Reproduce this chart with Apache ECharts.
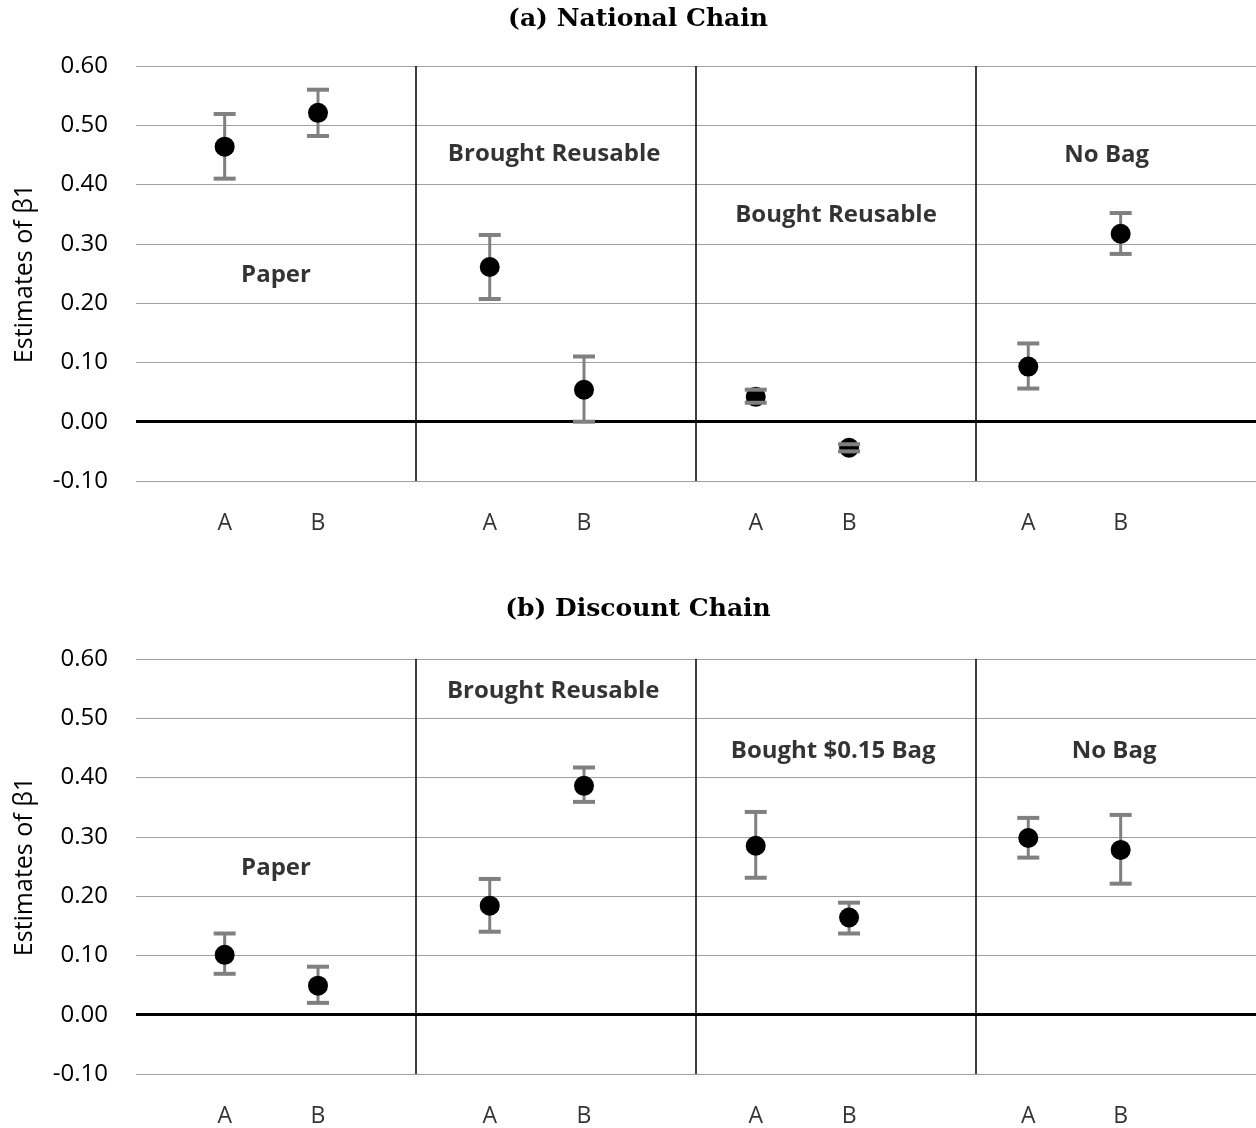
<!DOCTYPE html>
<html><head><meta charset="utf-8">
<script src="https://cdn.jsdelivr.net/npm/echarts@6/dist/echarts.min.js"></script>
<style>html,body{margin:0;padding:0;background:#fff}#c{width:1256px;height:1128px}</style>
</head><body><div id="c"></div><script>
// ---- data ----
const titleA = ['(a) ', 'National Chain'];
const titleB = ['(b) ', 'Discount Chain'];
const groupsNational = ['Paper', 'Brought Reusable', 'Bought Reusable', 'No Bag'];
const groupsDiscount = ['Paper', 'Brought Reusable', 'Bought $0.15 Bag', 'No Bag'];
const pointLabels = ['A', 'B', 'A', 'B', 'A', 'B', 'A', 'B'];
const xPos = [0.95, 1.95, 3.79, 4.80, 6.64, 7.64, 9.56, 10.55];
const separators = [3, 6, 9];
const yMin = -0.1, yMax = 0.6, yStep = 0.1;
const yName = 'Estimates of β1';

const nationalEst  = [0.464, 0.521, 0.261, 0.054, 0.042, -0.044, 0.093, 0.317];
const nationalLow  = [0.410, 0.482, 0.207, 0.000, 0.032, -0.050, 0.056, 0.283];
const nationalHigh = [0.519, 0.560, 0.315, 0.110, 0.054, -0.038, 0.132, 0.352];

const discountEst  = [0.101, 0.049, 0.184, 0.386, 0.285, 0.164, 0.298, 0.278];
const discountLow  = [0.069, 0.020, 0.140, 0.359, 0.231, 0.137, 0.265, 0.221];
const discountHigh = [0.137, 0.081, 0.229, 0.417, 0.342, 0.189, 0.332, 0.337];

// annotation anchor points (data coordinates)
const nationalLabelAt = [[1.5, 0.248], [4.48, 0.452], [7.5, 0.349], [10.4, 0.450]];
const discountLabelAt = [[1.5, 0.248], [4.47, 0.545], [7.47, 0.445], [10.48, 0.445]];

// ---- styles ----
const SANS = 'Open Sans';
const ERR = '#808080';

function stemItem(params, api) {
  const x = api.value(0);
  const p1 = api.coord([x, api.value(1)]);
  const p2 = api.coord([x, api.value(2)]);
  return { type: 'line', shape: { x1: p1[0], y1: p1[1], x2: p2[0], y2: p2[1] },
    style: { stroke: ERR, lineWidth: 3 } };
}
function capItem(params, api) {
  const x = api.value(0);
  const p1 = api.coord([x, api.value(1)]);
  const p2 = api.coord([x, api.value(2)]);
  const w = 11;
  return { type: 'group', children: [
    { type: 'line', shape: { x1: p1[0] - w, y1: p1[1], x2: p1[0] + w, y2: p1[1] }, style: { stroke: ERR, lineWidth: 4 } },
    { type: 'line', shape: { x1: p2[0] - w, y1: p2[1], x2: p2[0] + w, y2: p2[1] }, style: { stroke: ERR, lineWidth: 4 } }
  ] };
}

function panelSeries(idx, est, low, high, groups, labelAt) {
  const errData = xPos.map((x, i) => [x, low[i], high[i]]);
  return [
    { type: 'custom', xAxisIndex: idx, yAxisIndex: idx, renderItem: stemItem, data: errData,
      encode: { x: 0, y: [1, 2] }, z: 3, silent: true },
    { type: 'scatter', xAxisIndex: idx, yAxisIndex: idx, symbol: 'circle', symbolSize: 20,
      itemStyle: { color: '#000', opacity: 1 }, data: xPos.map((x, i) => [x, est[i]]), z: 4, silent: true,
      markLine: { silent: true, symbol: ['none', 'none'], label: { show: false }, animation: false,
        data: [
          { yAxis: 0, lineStyle: { color: '#000', width: 3, type: 'solid' } },
          ...separators.map(s => ({ xAxis: s, lineStyle: { color: '#000', width: 1.5, type: 'solid' } }))
        ] } },
    { type: 'custom', xAxisIndex: idx, yAxisIndex: idx, renderItem: capItem, data: errData,
      encode: { x: 0, y: [1, 2] }, z: 5, silent: true },
    { type: 'scatter', xAxisIndex: idx, yAxisIndex: idx, symbolSize: 1, clip: false, silent: true,
      itemStyle: { color: 'transparent' },
      data: xPos.map((x, i) => ({ name: pointLabels[i], value: [x, yMin] })),
      label: { show: true, position: 'bottom', distance: 30, formatter: '{b}',
        color: '#000', fontFamily: SANS, fontSize: 23 } },
    { type: 'scatter', xAxisIndex: idx, yAxisIndex: idx, symbolSize: 1, clip: false, silent: true,
      itemStyle: { color: 'transparent' },
      data: labelAt.map((p, i) => ({ name: groups[i], value: p })),
      label: { show: true, position: 'inside', formatter: '{b}',
        color: '#000', fontFamily: SANS, fontSize: 24, fontWeight: 'bold' } }
  ];
}

function yAxis(idx) {
  return { type: 'value', gridIndex: idx, min: yMin, max: yMax, interval: yStep,
    name: yName, nameLocation: 'middle', nameGap: 99, nameRotate: 90,
    nameTextStyle: { color: '#000', fontFamily: SANS, fontSize: 25 },
    axisLine: { show: false }, axisTick: { show: false },
    axisLabel: { color: '#000', fontFamily: SANS, fontSize: 24, margin: 28,
      formatter: v => v.toFixed(2) },
    splitLine: { show: true, lineStyle: { color: '#a0a0a0', width: 1.2 } } };
}
function xAxis(idx) {
  return { type: 'value', gridIndex: idx, min: 0, max: 12,
    axisLine: { show: false }, axisTick: { show: false }, axisLabel: { show: false },
    splitLine: { show: false } };
}
function title(parts, top) {
  return { text: '{a|' + parts[0] + '}{b|' + parts[1] + '}', left: 633, top: top, textAlign: 'center',
    textStyle: { rich: {
      a: { fontFamily: 'DejaVu Serif', fontSize: 25, color: '#000' },
      b: { fontFamily: 'DejaVu Serif', fontSize: 25, fontWeight: 'bold', color: '#000' } } } };
}

const chart = echarts.init(document.getElementById('c'), null, { renderer: 'canvas' });
chart.setOption({
  backgroundColor: '#fff',
  animation: false,
  title: [title(titleA, 2), title(titleB, 592)],
  grid: [
    { left: 136, right: 0, top: 66, height: 415 },
    { left: 136, right: 0, top: 659, height: 415 }
  ],
  xAxis: [xAxis(0), xAxis(1)],
  yAxis: [yAxis(0), yAxis(1)],
  series: [
    ...panelSeries(0, nationalEst, nationalLow, nationalHigh, groupsNational, nationalLabelAt),
    ...panelSeries(1, discountEst, discountLow, discountHigh, groupsDiscount, discountLabelAt)
  ]
});
</script></body></html>
